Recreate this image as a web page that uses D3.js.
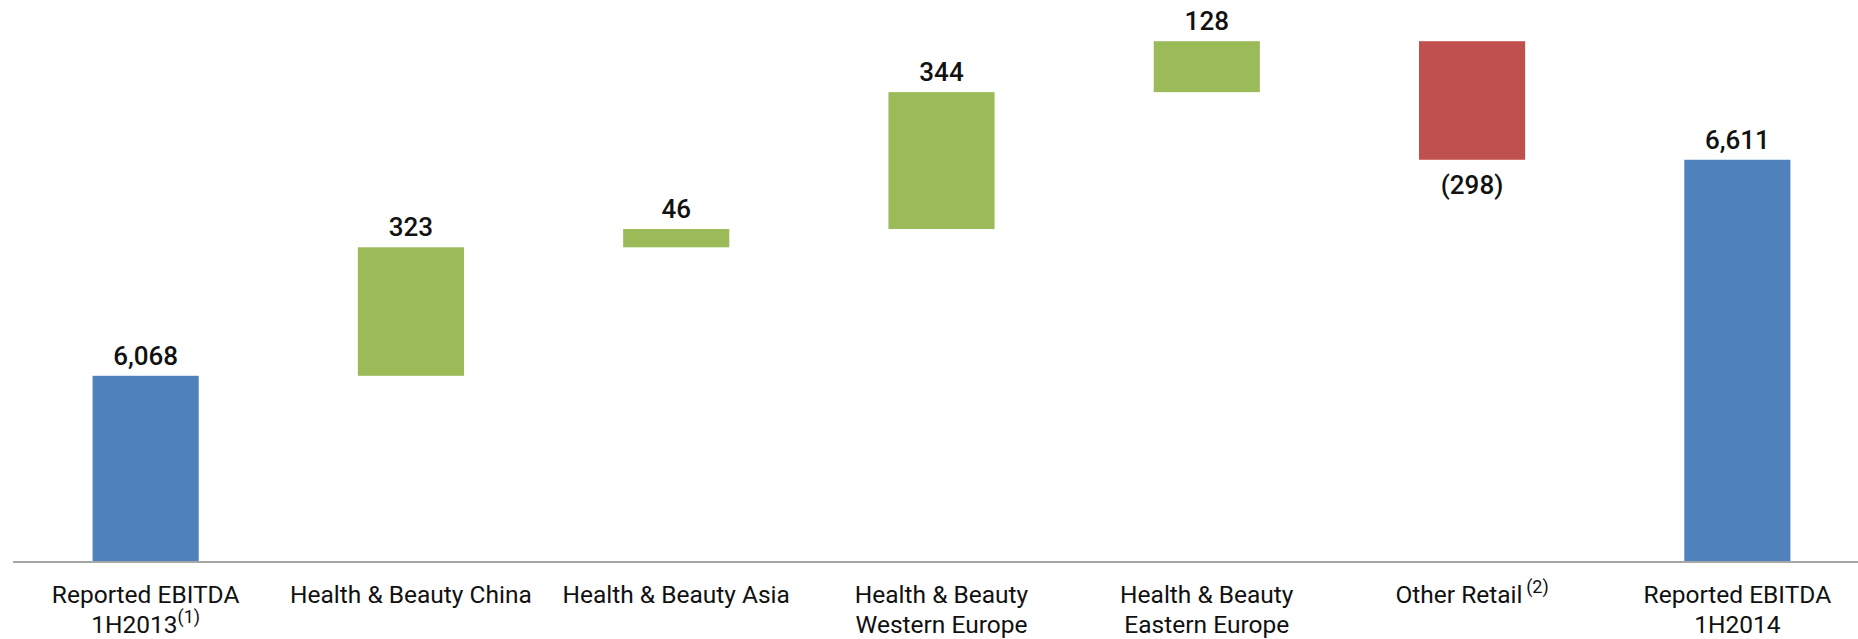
<!DOCTYPE html>
<html>
<head>
<meta charset="utf-8">
<script src="https://cdn.jsdelivr.net/npm/d3@7"></script>
<style>
  body { margin: 0; background: #fff; }
  svg { display: block; }
</style>
</head>
<body>
<svg id="chart" width="1858" height="639"></svg>
<script>
// waterfall: EBITDA 1H2013 -> 1H2014
const categories = ["Reported EBITDA 1H2013", "Health & Beauty China", "Health & Beauty Asia",
  "Health & Beauty Western Europe", "Health & Beauty Eastern Europe", "Other Retail", "Reported EBITDA 1H2014"]
const labelLines = [["Reported EBITDA", "1H2013"], ["Health & Beauty China"], ["Health & Beauty Asia"],
  ["Health & Beauty", "Western Europe"], ["Health & Beauty", "Eastern Europe"], ["Other Retail"], ["Reported EBITDA", "1H2014"]]
const footnotes = ["(1)", "", "", "", "", "(2)", ""]
const values = [6068, 323, 46, 344, 128, -298, 6611]
const kinds = ["total", "delta", "delta", "delta", "delta", "delta", "total"]
const valueLabels = ["6,068", "323", "46", "344", "128", "(298)", "6,611"]
const yDomain = [5600, 7000]

const width = 1858
const height = 639
const axisY = 562
const colours = { total: "#4F81BD", up: "#9BBB59", down: "#C0504D" }

// running start/end for each bar
let running = 0
const bars = categories.map((c, i) => {
  let start, end
  if (kinds[i] === "total") { start = yDomain[0]; end = values[i]; running = values[i] }
  else { start = running; end = running + values[i]; running = end }
  return { cat: c, i, start, end, v: values[i], kind: kinds[i] }
})

const x = d3.scaleBand()
  .domain(categories)
  .range([13, 1870])
  .paddingInner(0.6)
  .paddingOuter(0.3)

const y = d3.scaleLinear()
  .domain(yDomain)
  .range([axisY, 5])

const svg = d3.select("#chart")

svg.selectAll("rect.bar")
  .data(bars)
  .join("rect")
  .attr("class", "bar")
  .attr("x", d => x(d.cat))
  .attr("width", x.bandwidth())
  .attr("y", d => y(Math.max(d.start, d.end)))
  .attr("height", d => Math.abs(y(d.start) - y(d.end)))
  .attr("fill", d => d.kind === "total" ? colours.total : (d.v >= 0 ? colours.up : colours.down))

// axis line
svg.append("line")
  .attr("x1", 13).attr("x2", width)
  .attr("y1", axisY).attr("y2", axisY)
  .attr("stroke", "#a6a6a6")
  .attr("stroke-width", 2)

// value labels
svg.selectAll("text.val")
  .data(bars)
  .join("text")
  .attr("class", "val")
  .attr("x", d => x(d.cat) + x.bandwidth() / 2)
  .attr("y", d => d.v >= 0 ? y(Math.max(d.start, d.end)) - 11 : y(Math.min(d.start, d.end)) + 34)
  .attr("text-anchor", "middle")
  .style("font-family", "Roboto, sans-serif")
  .style("font-weight", 500)
  .style("font-size", "26px")
  .style("fill", "#111")
  .text((d, i) => valueLabels[i])

// category labels
const lab = svg.selectAll("text.cat")
  .data(bars)
  .join("text")
  .attr("class", "cat")
  .attr("text-anchor", "middle")
  .style("font-family", "Roboto, sans-serif")
  .style("font-size", "24.5px")
  .style("fill", "#111")

lab.each(function(d, i) {
  const t = d3.select(this)
  const cx = x(d.cat) + x.bandwidth() / 2
  const lines = labelLines[i]
  lines.forEach((line, k) => {
    t.append("tspan")
      .attr("x", cx)
      .attr("y", 603 + k * 30)
      .text(line)
    if (k === lines.length - 1 && footnotes[i]) {
      t.append("tspan")
        .attr("dy", -10)
        .style("font-size", "18px")
        .text((lines.length > 1 ? "" : "\u2009") + footnotes[i])
    }
  })
})
</script>
</body>
</html>
